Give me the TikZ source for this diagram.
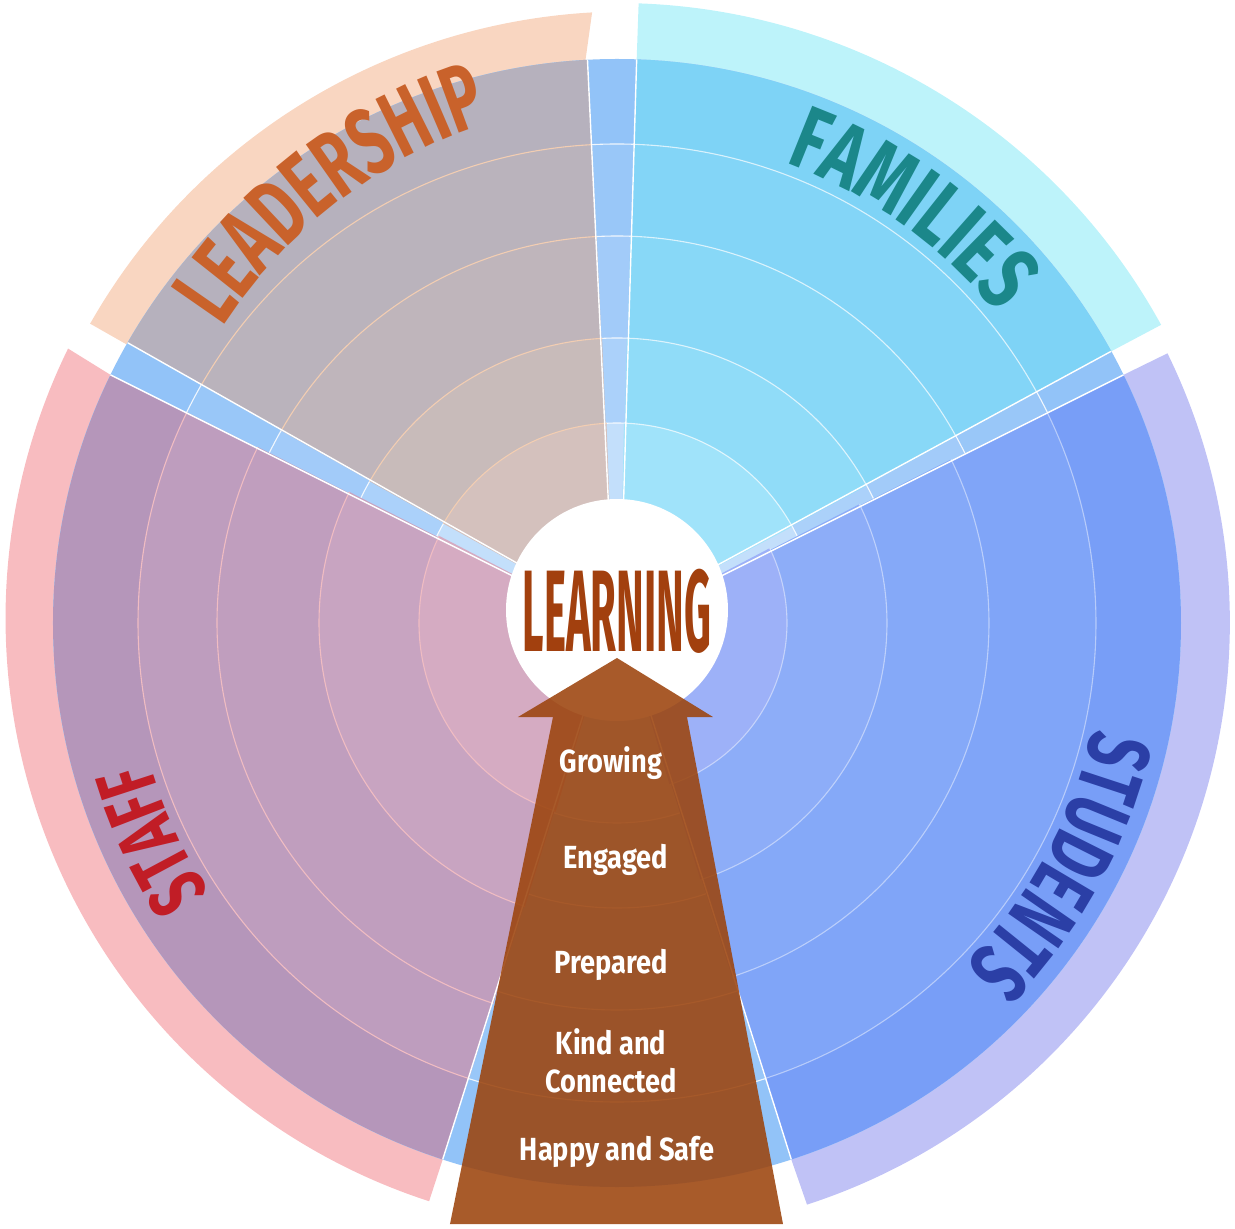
\documentclass[tikz,border=0pt]{standalone}
\usepackage{fontspec}
\setmainfont{Fira Sans}
\newfontfamily\learnfont{Fira Sans}[FakeStretch=0.36]
\newfontfamily\curvefont{Fira Sans}[FakeStretch=0.66]
\newfontfamily\curvefontw{Fira Sans}[FakeStretch=0.72]
\newfontfamily\armfont{Fira Sans}[FakeStretch=0.85]
\usetikzlibrary{decorations.text}
\definecolor{bandL}{HTML}{F9D6C1}
\definecolor{bandF}{HTML}{BDF3FA}
\definecolor{bandS}{HTML}{F8BCC0}
\definecolor{bandT}{HTML}{C0C2F6}
\definecolor{dsc5}{HTML}{92C3F8}
\definecolor{dsc4}{HTML}{99C7F8}
\definecolor{dsc3}{HTML}{A2CBF9}
\definecolor{dsc2}{HTML}{ABD1FA}
\definecolor{dsc1}{HTML}{C3DFFB}
\definecolor{L5}{HTML}{B6B1BD}
\definecolor{L4}{HTML}{BAB3BC}
\definecolor{L3}{HTML}{BFB5BB}
\definecolor{L2}{HTML}{C8BBBA}
\definecolor{L1}{HTML}{D4C1BD}
\definecolor{F5}{HTML}{7ED3F6}
\definecolor{F4}{HTML}{83D5F7}
\definecolor{F3}{HTML}{88D8F7}
\definecolor{F2}{HTML}{90DCF8}
\definecolor{F1}{HTML}{A0E3FA}
\definecolor{S5}{HTML}{B596BA}
\definecolor{S4}{HTML}{BE9DBE}
\definecolor{S3}{HTML}{C09EBE}
\definecolor{S2}{HTML}{C8A4C1}
\definecolor{S1}{HTML}{D5ABC2}
\definecolor{T5}{HTML}{789EF7}
\definecolor{T4}{HTML}{80A5F8}
\definecolor{T3}{HTML}{85A9F8}
\definecolor{T2}{HTML}{8DADF8}
\definecolor{T1}{HTML}{9DB1F8}
\definecolor{lineL}{HTML}{F2CDB2}
\definecolor{lineS}{HTML}{F0BCC2}
\definecolor{leadc}{HTML}{C9622B}
\definecolor{famc}{HTML}{1B878A}
\definecolor{staffc}{HTML}{C11D26}
\definecolor{studc}{HTML}{2B3FA6}
\definecolor{learnc}{HTML}{A2400E}
\definecolor{arrowc}{HTML}{9C440D}
\tikzset{
  ringw/.style={draw=white, line width=1.1pt, opacity=0.85},
  ringL/.style={draw=lineL, line width=1.1pt},
  ringS/.style={draw=lineS, line width=1.1pt},
  ringF/.style={draw=white, line width=1.1pt, opacity=0.7},
  ringT/.style={draw=white, line width=1.1pt, opacity=0.45},
  edgeline/.style={draw=white, line width=1.4pt},
  armlabel/.style={text=white, font=\armfont\bfseries\fontsize{32}{38}\selectfont, align=center, inner sep=0pt},
}
\begin{document}
\begin{tikzpicture}[x=1pt,y=1pt]
\useasboundingbox (-617,-606) rectangle (618,623);
% outer bands
\fill[bandL] (93.2:564) arc[start angle=93.2, end angle=150.4, radius=564] -- (150.4:606) arc[start angle=150.4, end angle=93.2, radius=617] -- cycle;
\fill[bandF] (28.8:564) arc[start angle=28.8, end angle=88, radius=564] -- (88:620) arc[start angle=88, end angle=28.8, radius=621] -- cycle;
\fill[bandS] (153.9:564) arc[start angle=153.9, end angle=252, radius=564] -- (252:608) arc[start angle=252, end angle=153.9, radius=613] -- cycle;
\fill[bandT] (-72:564) arc[start angle=-72, end angle=26.1, radius=564] -- (26.1:613) arc[start angle=26.1, end angle=-72, radius=612] -- cycle;
% base disc
\foreach \rad/\col in {564/dsc5,479/dsc4,387/dsc3,285/dsc2,200/dsc1}
  \fill[\col] (0,0) circle[radius=\rad];
\foreach \rad in {479,387,285,200}
  \draw[ringw] (0,0) circle[radius=\rad];
% leadership
\coordinate (apL) at (121.6:6);
\foreach \rad/\col in {564/L5,479/L4,387/L3,285/L2,200/L1}
  \fill[\col] (apL) -- (93:\rad) arc[start angle=93, end angle=150.2, radius=\rad] -- cycle;
\foreach \rad in {479,387,285,200}
  \draw[ringL] (93:\rad) arc[start angle=93, end angle=150.2, radius=\rad];
% families
\coordinate (apF) at (58.4:6);
\foreach \rad/\col in {564/F5,479/F4,387/F3,285/F2,200/F1}
  \fill[\col] (apF) -- (28.8:\rad) arc[start angle=28.8, end angle=88, radius=\rad] -- cycle;
\foreach \rad in {479,387,285,200}
  \draw[ringF] (28.8:\rad) arc[start angle=28.8, end angle=88, radius=\rad];
% staff
\coordinate (apS) at (203:6);
\foreach \rad/\col in {564/S5,479/S4,400/S3,298/S2,198/S1}
  \fill[\col] (apS) -- (153.9:\rad) arc[start angle=153.9, end angle=252, radius=\rad] -- cycle;
\foreach \rad in {479,400,298,198}
  \draw[ringS] (153.9:\rad) arc[start angle=153.9, end angle=252, radius=\rad];
% students
\coordinate (apT) at (-23:6);
\foreach \rad/\col in {564/T5,479/T4,372/T3,270/T2,170/T1}
  \fill[\col] (apT) -- (-72:\rad) arc[start angle=-72, end angle=26.1, radius=\rad] -- cycle;
\foreach \rad in {479,372,270,170}
  \draw[ringT] (-72:\rad) arc[start angle=-72, end angle=26.1, radius=\rad];
% sector edges
\foreach \ap/\ang in {apL/93,apL/150.2,apF/88,apF/28.8,apS/153.9,apS/252,apT/-72,apT/26.1}
  \draw[edgeline] (\ap) -- (\ang:564);
% hub
\node[circle, fill=white, minimum size=222pt, inner sep=0pt] (hub) at (0,13) {};
\node[text=learnc, font=\learnfont\bfseries\fontsize{116}{116}\selectfont, inner sep=0pt] (learn) at (0,12) {LEARNING};
% arrow
\fill[arrowc, opacity=0.88] (0,-35) -- (96,-94) -- (70,-94) -- (166,-601) -- (-167,-601) -- (-64,-94) -- (-99,-94) -- cycle;
\node[armlabel] (grow) at (-6,-140) {Growing};
\node[armlabel] (eng) at (-1,-237) {Engaged};
\node[armlabel] (prep) at (-6,-342) {Prepared};
\node[armlabel] (kind) at (-6,-438) {Kind and\\Connected};
\node[armlabel] (happy) at (0,-529) {Happy and Safe};
% curved labels
\coordinate (lc) at (30,20);
\path[decorate, decoration={text along path, text align=center, text color=leadc,
  text={|\curvefont\bfseries\fontsize{94}{94}\selectfont|LEADERSHIP}}]
  (lc) ++(157.5:506) arc[start angle=157.5, end angle=97.5, radius=506];
\path[decorate, decoration={text along path, text align=center, text color=famc,
  text={|\curvefontw\bfseries\fontsize{90}{90}\selectfont|FAMILIES}}]
  (84.5:490) arc[start angle=84.5, end angle=24.5, radius=490];
\path[decorate, decoration={text along path, text align=center, text color=staffc,
  text={|\curvefont\bfseries\fontsize{82}{82}\selectfont|STAFF}}]
  (235:488) arc[start angle=235, end angle=175, radius=488];
\path[decorate, decoration={text along path, text align=center, text color=studc,
  text={|\curvefont\bfseries\fontsize{88}{88}\selectfont|STUDENTS}}]
  (1.5:488) arc[start angle=1.5, end angle=-58.5, radius=488];
\end{tikzpicture}
\end{document}
